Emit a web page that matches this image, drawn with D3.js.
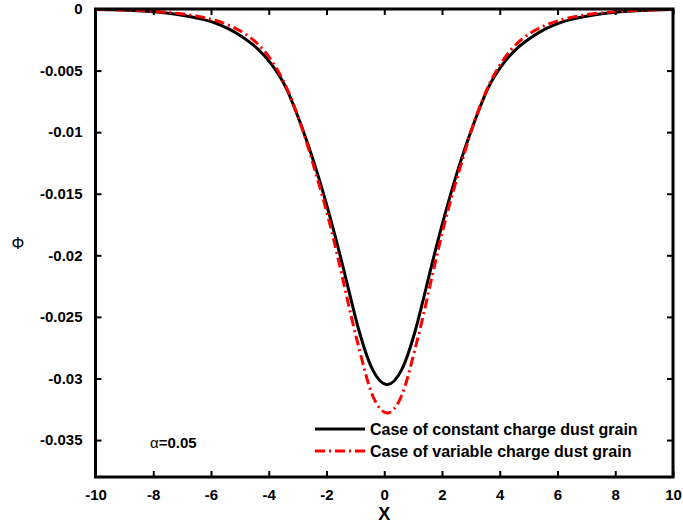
<!DOCTYPE html>
<html>
<head>
<meta charset="utf-8">
<script src="https://cdn.jsdelivr.net/npm/d3@7"></script>
<style>
  body { margin: 0; background: #fff; }
  text { font-family: "Liberation Sans", Arial, sans-serif; }
</style>
</head>
<body>
<div id="chart"></div>
<script>

// x positions of the read points (curve centre sits near x = 0.1)
var xValues = [-10, -9.4, -8.9, -8.4, -7.9, -7.4, -6.9, -6.4, -5.9, -5.4, -4.9, -4.4, -3.9, -3.4, -2.9, -2.4, -1.9, -1.4, -1.15, -0.9, -0.4,
               0.1,
               0.6, 1.1, 1.35, 1.6, 2.1, 2.6, 3.1, 3.6, 4.1, 4.6, 5.1, 5.6, 6.1, 6.6, 7.1, 7.6, 8.1, 8.6, 9.1, 9.6, 10];

var constantCharge = [-0.00005, -0.00007, -0.00011, -0.00017, -0.00025, -0.00037, -0.00055, -0.00078, -0.0011, -0.0016, -0.0023, -0.0032, -0.0045, -0.0064, -0.0093, -0.0127, -0.0167, -0.0212, -0.0236, -0.0259, -0.0293,
                      -0.0305,
                      -0.0293, -0.0259, -0.0236, -0.0212, -0.0167, -0.0127, -0.0093, -0.0064, -0.0045, -0.0032, -0.0023, -0.0016, -0.0011, -0.00078, -0.00055, -0.00037, -0.00025, -0.00017, -0.00011, -0.00007, -0.00005];

var variableCharge = [-0.00004, -0.00006, -0.00009, -0.00013, -0.0002, -0.0003, -0.00043, -0.00062, -0.0009, -0.0013, -0.0019, -0.0028, -0.0042, -0.0063, -0.0093, -0.0131, -0.0173, -0.0223, -0.0249, -0.0273, -0.0314,
                      -0.0328,
                      -0.0314, -0.0273, -0.0249, -0.0223, -0.0173, -0.0131, -0.0093, -0.0063, -0.0042, -0.0028, -0.0019, -0.0013, -0.0009, -0.00062, -0.00043, -0.0003, -0.0002, -0.00013, -0.00009, -0.00006, -0.00004];

var xTicks = [-10, -8, -6, -4, -2, 0, 2, 4, 6, 8, 10];
var yTicks = [0, -0.005, -0.01, -0.015, -0.02, -0.025, -0.03, -0.035];
var legendLabels = ["Case of constant charge dust grain", "Case of variable charge dust grain"];

var width = 683, height = 523;
var plotLeft = 95.5, plotRight = 673, plotTop = 9, plotBottom = 477;

var svg = d3.select("#chart")
            .append("svg")
            .attr("width", width)
            .attr("height", height);

var x = d3.scaleLinear().domain([-10, 10]).range([plotLeft, plotRight]);
var y = d3.scaleLinear().domain([-0.038, 0]).range([plotBottom, plotTop]);

svg.append("clipPath").attr("id", "plotclip")
   .append("rect")
   .attr("x", plotLeft).attr("y", plotTop)
   .attr("width", plotRight - plotLeft).attr("height", plotBottom - plotTop);

var line = d3.line()
             .x(function(d){ return x(d[0]); })
             .y(function(d){ return y(d[1]); })
             .curve(d3.curveMonotoneX);

var blackData = xValues.map(function(v, i){ return [v, constantCharge[i]]; });
var redData = xValues.map(function(v, i){ return [v, variableCharge[i]]; });

var plot = svg.append("g").attr("clip-path", "url(#plotclip)");

plot.append("path")
    .attr("d", line(blackData))
    .style("fill", "none")
    .style("stroke", "#000")
    .style("stroke-width", 3);

plot.append("path")
    .attr("d", line(redData))
    .style("fill", "none")
    .style("stroke", "#f00")
    .style("stroke-width", 3)
    .style("stroke-dasharray", "10,4,2,4");

// axes: ticks pointing inward on all four sides
function styleAxis(g){
  g.select(".domain").remove();
  g.selectAll(".tick line").style("stroke", "#000").style("stroke-width", 2);
  g.selectAll(".tick text")
   .style("font-size", "15px")
   .style("font-weight", "bold")
   .style("fill", "#000");
}

svg.append("g")
   .attr("transform", "translate(0," + plotBottom + ")")
   .call(d3.axisBottom(x).tickValues(xTicks).tickSize(-6).tickPadding(12)
          .tickFormat(function(d){ return String(d); }))
   .call(styleAxis);

svg.append("g")
   .attr("transform", "translate(0," + plotTop + ")")
   .call(d3.axisTop(x).tickValues(xTicks).tickSize(-6).tickFormat(""))
   .call(styleAxis);

svg.append("g")
   .attr("transform", "translate(" + plotLeft + ",0)")
   .call(d3.axisLeft(y).tickValues(yTicks).tickSize(-6).tickPadding(13)
          .tickFormat(function(d){ return d === 0 ? "0" : String(d); }))
   .call(styleAxis);

svg.append("g")
   .attr("transform", "translate(" + plotRight + ",0)")
   .call(d3.axisRight(y).tickValues(yTicks).tickSize(-6).tickFormat(""))
   .call(styleAxis);

// frame
svg.append("rect")
   .attr("x", plotLeft).attr("y", plotTop)
   .attr("width", plotRight - plotLeft).attr("height", plotBottom - plotTop)
   .style("fill", "none")
   .style("stroke", "#000")
   .style("stroke-width", 3);

// axis titles
svg.append("text")
   .attr("x", x(0))
   .attr("y", 520)
   .attr("text-anchor", "middle")
   .style("font-size", "18px")
   .style("font-weight", "bold")
   .text("X");

svg.append("text")
   .attr("x", 18)
   .attr("y", 249)
   .attr("text-anchor", "middle")
   .style("font-size", "16px")
   .text("\u03A6");

// annotation
var note = svg.append("text")
   .attr("x", 150)
   .attr("y", 448)
   .style("font-size", "15px");
note.append("tspan").text("\u03B1");
note.append("tspan").style("font-weight", "bold").text("=0.05");

// legend
var legend = svg.append("g");
var legendStyles = [
  {color: "#000", dash: null},
  {color: "#f00", dash: "10,4,2,4"}
];

legend.selectAll("line")
  .data(legendStyles)
  .enter()
  .append("line")
  .attr("x1", 315)
  .attr("x2", 365)
  .attr("y1", function(d, i){ return 429 + 22 * i; })
  .attr("y2", function(d, i){ return 429 + 22 * i; })
  .style("stroke", function(d){ return d.color; })
  .style("stroke-width", 3)
  .style("stroke-dasharray", function(d){ return d.dash; });

legend.selectAll("text")
  .data(legendLabels)
  .enter()
  .append("text")
  .attr("x", 370)
  .attr("y", function(d, i){ return 435 + 22 * i; })
  .style("font-size", "16px")
  .style("font-weight", "bold")
  .text(function(d){ return d; });

</script>
</body>
</html>
